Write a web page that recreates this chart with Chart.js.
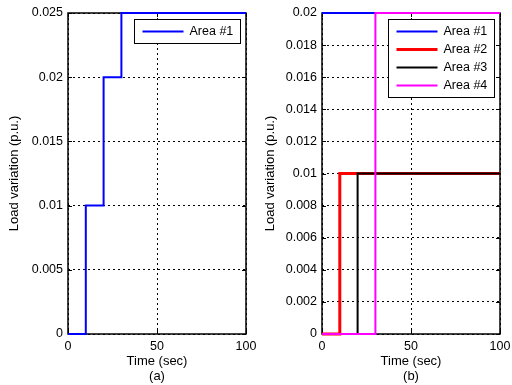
<!DOCTYPE html>
<html>
<head>
<meta charset="utf-8">
<script src="https://cdn.jsdelivr.net/npm/chart.js@4.4.1/dist/chart.umd.min.js"></script>
<style>
  html, body { margin: 0; padding: 0; background: #fff; }
  #wrap { position: relative; width: 512px; height: 385px; }
  canvas { position: absolute; top: 0; }
  #ca { left: 0; }
  #cb { left: 256px; }
</style>
</head>
<body>
<div id="wrap">
  <canvas id="ca" width="256" height="385"></canvas>
  <canvas id="cb" width="256" height="385"></canvas>
</div>
<script>
// step times (sec) and load levels (p.u.) held from each time on
const timeTicks = [0, 50, 100]
const yTicksA = [0, 0.005, 0.01, 0.015, 0.02, 0.025]
const yTicksB = [0, 0.002, 0.004, 0.006, 0.008, 0.01, 0.012, 0.014, 0.016, 0.018, 0.02]

// panel (a)
const a1Times = [0, 10, 20, 30, 100]
const a1Load = [0, 0.01, 0.02, 0.025, 0.025]

// panel (b)
const b1Times = [0, 100]
const b1Load = [0.02, 0.02]
const b2Times = [0, 10, 100]
const b2Load = [0, 0.01, 0.01]
const b3Times = [0, 20, 100]
const b3Load = [0, 0.01, 0.01]
const b4Times = [0, 30, 100]
const b4Load = [0, 0.02, 0.02]

const FONT = "'Liberation Sans', Arial, sans-serif"

function steps(times, load) {
  return times.map((t, i) => ({ x: t, y: load[i] }))
}

// later series are drawn on top of earlier ones (lower order = drawn last)
function series(label, times, load, color, width, order) {
  return {
    label,
    data: steps(times, load),
    borderColor: color,
    backgroundColor: color,
    borderWidth: width,
    stepped: true,
    pointRadius: 0,
    fill: false,
    clip: 6,
    order
  }
}

// box around the plot area with small inward ticks, like the old plotting style
const frame = {
  id: "frame",
  beforeDatasetsDraw(chart) {
    const { ctx, chartArea: a, scales } = chart
    ctx.save()
    ctx.strokeStyle = "#000"
    ctx.lineWidth = 1.5
    ctx.strokeRect(a.left, a.top, a.right - a.left, a.bottom - a.top)
    ctx.lineWidth = 1
    ctx.beginPath()
    scales.x.ticks.forEach((t) => {
      const x = Math.round(scales.x.getPixelForValue(t.value)) + 0.5
      ctx.moveTo(x, a.bottom); ctx.lineTo(x, a.bottom - 4)
      ctx.moveTo(x, a.top); ctx.lineTo(x, a.top + 4)
    })
    scales.y.ticks.forEach((t) => {
      const y = Math.round(scales.y.getPixelForValue(t.value)) + 0.5
      ctx.moveTo(a.left, y); ctx.lineTo(a.left + 4, y)
      ctx.moveTo(a.right, y); ctx.lineTo(a.right - 4, y)
    })
    ctx.stroke()
    ctx.restore()
  },
  afterDatasetsDraw(chart) {
    // legend box in the top right corner
    const { ctx, chartArea: a } = chart
    const sets = chart.data.datasets
    const w = 106
    const h = 6 + 18 * sets.length
    const x0 = Math.round(a.right - 6 - w) + 0.5
    const y0 = Math.round(a.top + 6) + 0.5
    ctx.save()
    ctx.fillStyle = "#fff"
    ctx.fillRect(x0, y0, w, h)
    ctx.strokeStyle = "#000"
    ctx.lineWidth = 1
    ctx.strokeRect(x0, y0, w, h)
    ctx.font = "12.5px " + FONT
    ctx.textBaseline = "middle"
    ctx.fillStyle = "#000"
    sets.forEach((ds, i) => {
      const y = y0 + 12 + 18 * i
      ctx.strokeStyle = ds.borderColor
      ctx.lineWidth = ds.borderWidth
      ctx.beginPath()
      ctx.moveTo(x0 + 8, y)
      ctx.lineTo(x0 + 49, y)
      ctx.stroke()
      ctx.fillText(ds.label, x0 + 55, y + 0.5)
    })
    ctx.restore()
  }
}

function makePanel(id, datasets, yTicks, yMax, tag, yWidth, padRight) {
  const grid = { color: "#000", lineWidth: 1, drawTicks: false }
  const border = { display: false, dash: [2, 3] }
  return new Chart(document.getElementById(id), {
    type: "line",
    data: { datasets },
    options: {
      responsive: false,
      animation: false,
      layout: { padding: { left: 0, right: padRight, top: 13, bottom: 0 } },
      plugins: { legend: { display: false }, tooltip: { enabled: false } },
      scales: {
        x: {
          type: "linear",
          min: 0,
          max: 100,
          grid,
          border,
          afterBuildTicks: (s) => { s.ticks = timeTicks.map((v) => ({ value: v })) },
          afterFit: (s) => { s.height = 51; s.paddingLeft = 0; s.paddingRight = 0 },
          ticks: {
            color: "#000",
            padding: 5,
            maxRotation: 0,
            font: { family: FONT, size: 12.5 },
            callback: (v) => String(v)
          },
          title: {
            display: true,
            text: ["Time (sec)", tag],
            color: "#000",
            font: { family: FONT, size: 13, lineHeight: "15px" },
            padding: { top: 0, bottom: 1.5 }
          }
        },
        y: {
          min: 0,
          max: yMax,
          grid,
          border,
          afterBuildTicks: (s) => { s.ticks = yTicks.map((v) => ({ value: v })) },
          afterFit: (s) => { s.width = yWidth; s.paddingTop = 0; s.paddingBottom = 0 },
          ticks: {
            color: "#000",
            padding: 5,
            font: { family: FONT, size: 12.5 },
            callback: (v) => String(v)
          },
          title: {
            display: true,
            text: "Load variation (p.u.)",
            color: "#000",
            font: { family: FONT, size: 13, lineHeight: "14px" },
            padding: { top: 7, bottom: 0 }
          }
        }
      }
    },
    plugins: [frame]
  })
}

makePanel("ca", [
  series("Area #1", a1Times, a1Load, "#0000ff", 2, 0)
], yTicksA, 0.025, "(a)", 68, 10)

makePanel("cb", [
  series("Area #1", b1Times, b1Load, "#0000ff", 2, 3),
  series("Area #2", b2Times, b2Load, "#ff0000", 3, 2),
  series("Area #3", b3Times, b3Load, "#000000", 2, 1),
  series("Area #4", b4Times, b4Load, "#ff00ff", 2, 0)
], yTicksB, 0.02, "(b)", 66, 12)
</script>
</body>
</html>
